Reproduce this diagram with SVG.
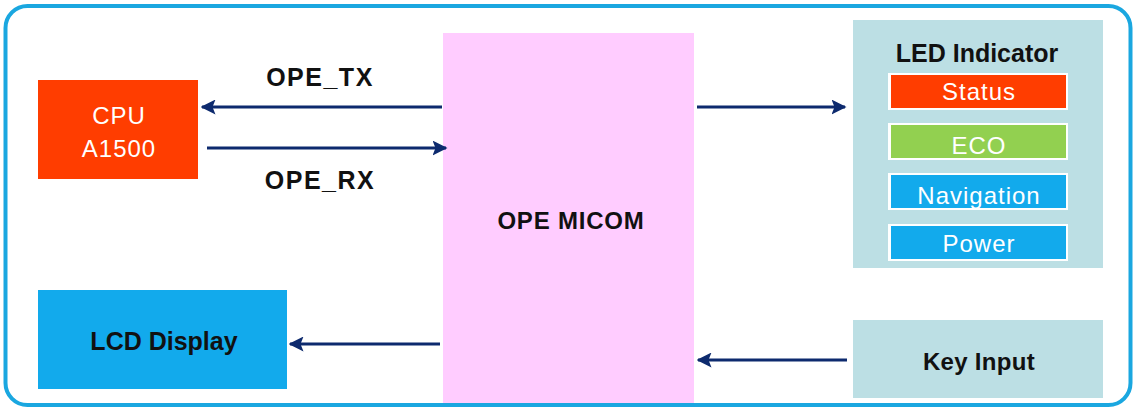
<svg xmlns="http://www.w3.org/2000/svg" width="1136" height="410" viewBox="0 0 1136 410">
<defs>
<marker id="ah" viewBox="0 0 10 10" refX="9" refY="5" markerWidth="5" markerHeight="5" orient="auto" markerUnits="strokeWidth">
<path d="M0,0 L10,5 L0,10 L2,5 z" fill="#0D2A6E"/>
</marker>
<style>
.b{font-family:"Liberation Sans",Arial,sans-serif;font-weight:bold;fill:#111;text-anchor:middle}
.w{font-family:"Liberation Sans",Arial,sans-serif;fill:#fff;text-anchor:middle;font-size:24px;letter-spacing:1px}
.c{stroke:#0D2A6E;stroke-width:3;fill:none;marker-end:url(#ah)}
.teal{fill:#BCDFE4}
.blue{fill:#12AAEC}
</style>
</defs>
<rect x="0" y="0" width="1136" height="410" fill="#fff"/>
<rect x="5.5" y="6" width="1125" height="399" rx="22" fill="#fff" stroke="#1AA7E0" stroke-width="4"/>
<g id="cpu">
<rect x="38" y="80" width="160" height="99" fill="#FF3D00"/>
<text class="w" x="119" y="124">CPU</text>
<text class="w" x="119" y="157">A1500</text>
</g>
<g id="micom">
<rect x="443" y="33" width="251" height="370" fill="#FFCCFF"/>
<text class="b" x="571" y="229" font-size="24" letter-spacing="0.8">OPE MICOM</text>
</g>
<g id="led">
<rect x="853" y="20" width="250" height="248" class="teal"/>
<text class="b" x="977" y="62" font-size="25">LED Indicator</text>
<g id="led-status">
<rect x="888" y="73" width="180" height="37" fill="#fff"/>
<rect x="891" y="75" width="175" height="33" fill="#FF3D00"/>
<text class="w" x="979" y="100">Status</text>
</g>
<g id="led-eco">
<rect x="888" y="123" width="180" height="37" fill="#fff"/>
<rect x="891" y="125" width="175" height="33" fill="#92D050"/>
<text class="w" x="979" y="154">ECO</text>
</g>
<g id="led-nav">
<rect x="888" y="173" width="180" height="37" fill="#fff"/>
<rect x="891" y="175" width="175" height="33" class="blue"/>
<text class="w" x="979" y="204">Navigation</text>
</g>
<g id="led-power">
<rect x="888" y="224" width="180" height="37" fill="#fff"/>
<rect x="891" y="226" width="175" height="33" class="blue"/>
<text class="w" x="979" y="252">Power</text>
</g>
</g>
<g id="lcd">
<rect x="38" y="290" width="249" height="99" class="blue"/>
<text class="b" x="164" y="350" font-size="25">LCD Display</text>
</g>
<g id="key">
<rect x="853" y="320" width="250" height="78" class="teal"/>
<text class="b" x="979" y="370" font-size="24" letter-spacing="0.3">Key Input</text>
</g>
<g id="connectors">
<line class="c" x1="442" y1="107" x2="202" y2="107"/>
<line class="c" x1="207" y1="148" x2="446" y2="148"/>
<line class="c" x1="697" y1="107" x2="845" y2="107"/>
<line class="c" x1="440" y1="344" x2="290" y2="344"/>
<line class="c" x1="847" y1="360" x2="698" y2="360"/>
<text class="b" x="320" y="86" font-size="25" letter-spacing="1.5">OPE_TX</text>
<text class="b" x="320" y="189" font-size="25" letter-spacing="1.5">OPE_RX</text>
</g>
</svg>
